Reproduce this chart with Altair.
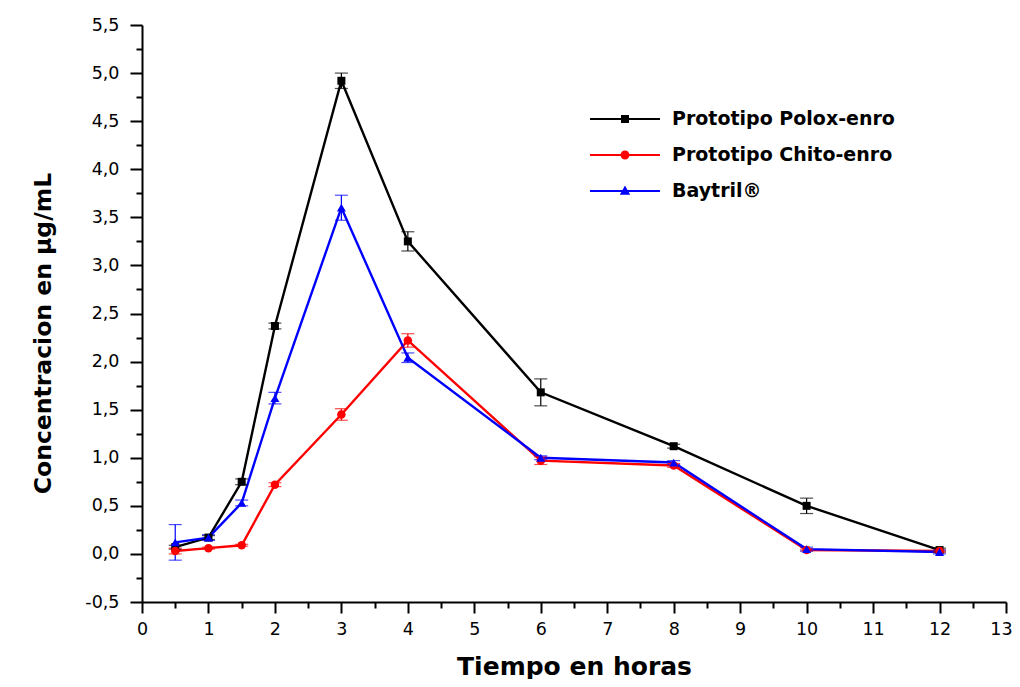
import altair as alt
import pandas as pd

# ---- data ----
times = [0.5, 1, 1.5, 2, 3, 4, 6, 8, 10, 12]
series_names = ["Prototipo Polox-enro", "Prototipo Chito-enro", "Baytril®"]
polox = [0.07, 0.17, 0.75, 2.37, 4.92, 3.25, 1.68, 1.12, 0.50, 0.04]
polox_err = [0.02, 0.02, 0.03, 0.03, 0.08, 0.10, 0.14, 0.02, 0.08, 0.02]
chito = [0.03, 0.06, 0.09, 0.72, 1.45, 2.22, 0.97, 0.92, 0.04, 0.03]
chito_err = [0.03, 0.01, 0.01, 0.02, 0.06, 0.07, 0.04, 0.02, 0.01, 0.01]
baytril = [0.12, 0.17, 0.53, 1.62, 3.60, 2.04, 1.00, 0.95, 0.05, 0.02]
baytril_err = [0.185, 0.03, 0.03, 0.06, 0.13, 0.05, 0.02, 0.02, 0.02, 0.02]

x_major_ticks = list(range(0, 14))
x_minor_ticks = [i + 0.5 for i in range(0, 13)]
y_major_ticks = [round(-0.5 + 0.5 * i, 2) for i in range(13)]
y_minor_ticks = [round(-0.25 + 0.5 * i, 2) for i in range(12)]

colors = ["#000000", "#FF0000", "#0000FF"]
shapes = ["square", "circle", "triangle-up"]
marker_sizes = [64, 81, 100]

rows = []
for name, vals, errs in zip(series_names, [polox, chito, baytril], [polox_err, chito_err, baytril_err]):
    for t, v, e in zip(times, vals, errs):
        rows.append({"time": t, "value": v, "lo": v - e, "hi": v + e, "series": name})
df = pd.DataFrame(rows)

xscale = alt.Scale(domain=[0, 13], nice=False, zero=False)
yscale = alt.Scale(domain=[-0.5, 5.5], nice=False, zero=False)
cscale = alt.Scale(domain=series_names, range=colors)

LABEL_FONT = "DejaVu Sans"
TITLE_FONT = "DejaVu Sans"

y_label_expr = "replace(replace(format(datum.value, '.1f'), '.', ','), '\u2212', '-')"

x_major_axis = alt.Axis(
    values=x_major_ticks, orient="bottom", tickSize=11, tickWidth=2, domainWidth=2,
    domainColor="black", tickColor="black", labelFont=LABEL_FONT, labelFontSize=17.5,
    labelColor="black", labelPadding=7, labelFlush=False, grid=False,
    labelOffset={"condition": {"test": "datum.value == 13", "value": -5}, "value": 0},
    title="Tiempo en horas", titleFont=TITLE_FONT, titleFontSize=25, titleFontWeight="bold",
    titleColor="black", titleBaseline="alphabetic", titleY=72,
)
x_minor_axis = alt.Axis(
    values=x_minor_ticks, orient="bottom", tickSize=6, tickWidth=2, domain=False,
    tickColor="black", labels=False, grid=False, title=None,
)
y_major_axis = alt.Axis(
    values=y_major_ticks, orient="left", tickSize=12, tickWidth=2, domainWidth=2,
    domainColor="black", tickColor="black", labelFont=LABEL_FONT, labelFontSize=17.5,
    labelColor="black", labelPadding=11, labelExpr=y_label_expr, labelFlush=False, grid=False,
    title="Concentracion en µg/mL", titleFont=TITLE_FONT, titleFontSize=23.5,
    titleFontWeight="bold", titleColor="black", titleBaseline="alphabetic",
    titleX=-92, titleY=308,
)
y_minor_axis = alt.Axis(
    values=y_minor_ticks, orient="left", tickSize=6, tickWidth=2, domain=False,
    tickColor="black", labels=False, grid=False, title=None,
)

# legend symbols: a line segment with the series marker in its centre
p_square = "M-3.5,-0.11H3.5V0.11H-3.5Z M-0.4,-0.4H0.4V0.4H-0.4Z"
p_circle = "M-3.5,-0.11H3.5V0.11H-3.5Z M-0.45,0A0.45,0.45 0 1,1 0.45,0A0.45,0.45 0 1,1 -0.45,0Z"
p_tri = "M-3.5,-0.11H3.5V0.11H-3.5Z M0,-0.55L0.52,0.38H-0.52Z"
legend_shapes = [p_square, p_circle, p_tri]

legend_props = dict(
    title=None, orient="none", legendX=473, legendY=84, padding=0,
    labelFont=TITLE_FONT, labelFontWeight="bold", labelFontSize=19, labelColor="black",
    labelOffset=37, labelLimit=500, symbolSize=400, rowPadding=16,
    symbolStrokeWidth=0, symbolOpacity=1,
)

base = alt.Chart(df)

lines = base.mark_line(strokeWidth=2.4).encode(
    x=alt.X("time:Q", scale=xscale, axis=x_major_axis),
    y=alt.Y("value:Q", scale=yscale, axis=y_major_axis),
    color=alt.Color("series:N", scale=cscale, legend=None),
    detail="series:N",
)

err_rules = base.mark_rule(strokeWidth=1.2).encode(
    x=alt.X("time:Q", scale=xscale, axis=x_minor_axis),
    y=alt.Y("lo:Q", scale=yscale, axis=y_minor_axis),
    y2="hi:Q",
    color=alt.Color("series:N", scale=cscale, legend=None),
)

cap_lo = base.mark_tick(orient="horizontal", size=13, thickness=1.2).encode(
    x=alt.X("time:Q", scale=xscale, axis=None),
    y=alt.Y("lo:Q", scale=yscale, axis=None),
    color=alt.Color("series:N", scale=cscale, legend=None),
)
cap_hi = base.mark_tick(orient="horizontal", size=13, thickness=1.2).encode(
    x=alt.X("time:Q", scale=xscale, axis=None),
    y=alt.Y("hi:Q", scale=yscale, axis=None),
    color=alt.Color("series:N", scale=cscale, legend=None),
)

points = base.mark_point(filled=True, opacity=1).encode(
    x=alt.X("time:Q", scale=xscale, axis=None),
    y=alt.Y("value:Q", scale=yscale, axis=None),
    color=alt.Color("series:N", scale=cscale, legend=None),
    shape=alt.Shape("series:N", scale=alt.Scale(domain=series_names, range=shapes), legend=None),
    size=alt.Size("series:N", scale=alt.Scale(domain=series_names, range=marker_sizes), legend=None),
)

# legend-only layer (no rows pass the filter; the legend comes from the explicit domains)
legend_layer = base.transform_filter("datum.time < 0").mark_point(
    filled=True, opacity=1, size=400
).encode(
    x=alt.X("time:Q", scale=xscale, axis=None),
    y=alt.Y("value:Q", scale=yscale, axis=None),
    color=alt.Color("series:N", scale=cscale, legend=alt.Legend(**legend_props)),
    shape=alt.Shape("series:N", scale=alt.Scale(domain=series_names, range=legend_shapes),
                    legend=alt.Legend(**legend_props)),
)

chart = (
    alt.layer(lines, err_rules, cap_lo, cap_hi, points, legend_layer)
    .resolve_axis(x="independent", y="independent")
    .resolve_scale(color="independent", shape="independent")
    .properties(
        width=864, height=577,
        autosize=alt.AutoSizeParams(type="none"),
        padding={"left": 134, "top": 17, "right": 6, "bottom": 77},
        background="white",
    )
    .configure_view(stroke=None)
)

chart.save("out.html", embed_options={"renderer": "svg", "actions": False})
